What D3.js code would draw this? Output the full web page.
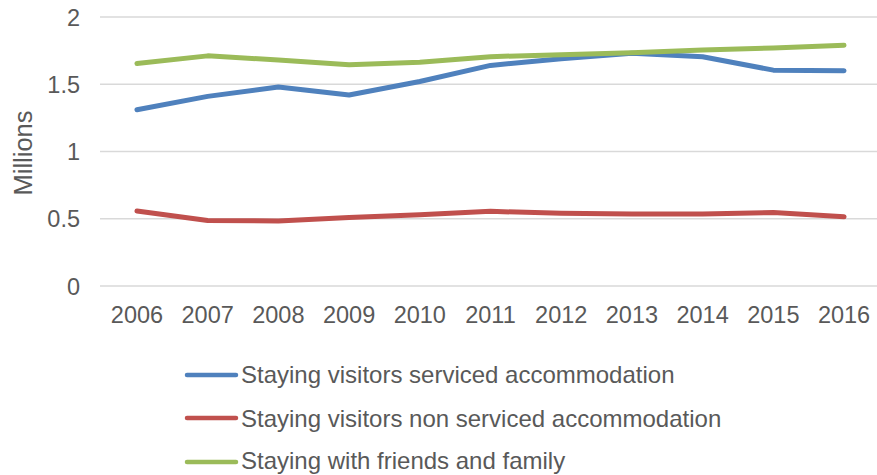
<!DOCTYPE html>
<html><head><meta charset="utf-8">
<script src="https://cdn.jsdelivr.net/npm/d3@7"></script>
<style>body{margin:0;background:#fff}text{font-family:"Liberation Sans",Arial,sans-serif;fill:#595959}</style>
</head><body><svg id="c" width="877" height="475"></svg>
<script>
const years = ["2006","2007","2008","2009","2010","2011","2012","2013","2014","2015","2016"];
const serviced = [1.31,1.41,1.48,1.42,1.52,1.64,1.69,1.73,1.705,1.605,1.60];
const nonServiced = [0.557,0.487,0.484,0.51,0.53,0.555,0.54,0.535,0.535,0.547,0.515];
const friends = [1.654,1.711,1.68,1.645,1.664,1.705,1.72,1.735,1.755,1.77,1.79];
const seriesNames = ["Staying visitors serviced accommodation","Staying visitors non serviced accommodation","Staying with friends and family"];
const colors = ["#4F81BD","#C0504D","#9BBB59"];
const yTicks = [0,0.5,1,1.5,2];

const svg = d3.select("#c");
const x = d3.scaleBand().domain(years).range([101.6,879.4]);
const y = d3.scaleLinear().domain([0,2]).range([286,17]);

svg.append("g").selectAll("line").data(yTicks).join("line")
  .attr("x1",100).attr("x2",877).attr("y1",d=>y(d)).attr("y2",d=>y(d))
  .attr("stroke","#d9d9d9").attr("stroke-width",1.3);

svg.append("g").selectAll("text").data(yTicks).join("text")
  .attr("x",80).attr("y",d=>y(d)+8.5).attr("text-anchor","end")
  .attr("font-size",23.5).text(d=>d);

svg.append("g").selectAll("text").data(years).join("text")
  .attr("x",d=>x(d)+x.bandwidth()/2).attr("y",323).attr("text-anchor","middle")
  .attr("font-size",23.5).text(d=>d);

svg.append("text").attr("transform","translate(32,153) rotate(-90)")
  .attr("text-anchor","middle").attr("font-size",25.5).text("Millions");

const data = [serviced, nonServiced, friends];
const line = d3.line().x((d,i)=>x(years[i])+x.bandwidth()/2).y(d=>y(d));
data.forEach((s,k)=>{
  svg.append("path").attr("d",line(s)).attr("fill","none")
    .attr("stroke",colors[k]).attr("stroke-width",5)
    .attr("stroke-linecap","round").attr("stroke-linejoin","round");
});

const ly = [375,418,462];
const tb = [383,427,469];
seriesNames.forEach((n,k)=>{
  svg.append("line").attr("x1",187).attr("x2",236).attr("y1",ly[k]).attr("y2",ly[k])
    .attr("stroke",colors[k]).attr("stroke-width",4.5).attr("stroke-linecap","round");
  svg.append("text").attr("x",241).attr("y",tb[k]).attr("font-size",24).text(n);
});
</script></body></html>
